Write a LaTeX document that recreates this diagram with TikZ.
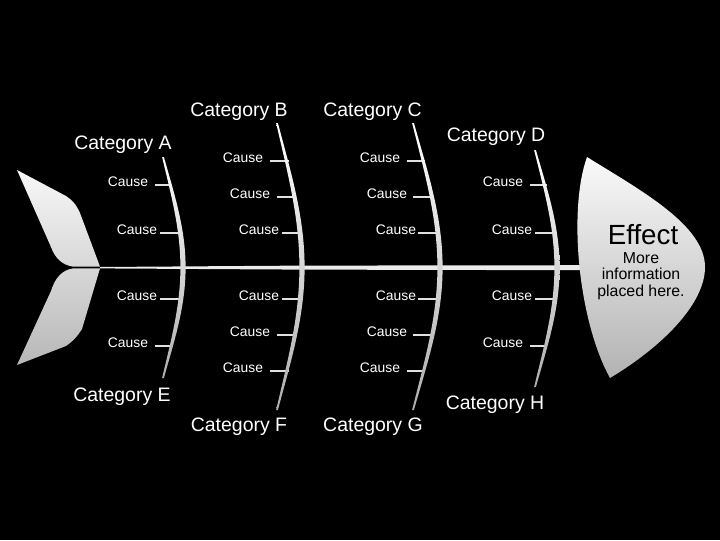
\documentclass[tikz,border=0pt]{standalone}
\usepackage{fontspec}
\setmainfont{Liberation Sans}
\newcommand\fbone[4]{% xtop, ytop, xmid, ybot
  \shade[bonesh]
   ({#1-0.9},#2) .. controls ({#1+0.5*(#3-#1)-1.8},{#2+0.35*(267.5-#2)}) and ({#3-2.6},{267.5-0.35*(267.5-#2)}) .. ({#3-2.6},267.5)
   .. controls ({#3-2.6},{267.5+0.35*(#4-267.5)}) and ({#1+0.5*(#3-#1)-1.8},{#4-0.35*(#4-267.5)}) .. ({#1-0.9},#4)
   -- ({#1+0.9},#4)
   .. controls ({#1+0.5*(#3-#1)+1.8},{#4-0.35*(#4-267.5)}) and ({#3+2.6},{267.5+0.35*(#4-267.5)}) .. ({#3+2.6},267.5)
   .. controls ({#3+2.6},{267.5-0.35*(267.5-#2)}) and ({#1+0.5*(#3-#1)+1.8},{#2+0.35*(267.5-#2)}) .. ({#1+0.9},#2)
   -- cycle;}
\newcommand\causetick[5]{% name, text x, text y, tick x1, tick x2
  \node[cause] (#1) at (#2,{#3+4.6}) {Cause};
  \coordinate (#1s) at (#4,{#3+3});
  \coordinate (#1e) at (#5,{#3+3});
  \draw[tick] (#1s) -- (#1e);}
\begin{document}
\begin{tikzpicture}[x=0.75pt,y=-0.75pt,
  cat/.style={text=white,font=\fontsize{14.6}{17}\selectfont,inner sep=0,anchor=base},
  cause/.style={text=white,font=\fontsize{10.4}{12}\selectfont,inner sep=0,anchor=base},
  tick/.style={draw=white!88!black,line width=0.8pt},
  bonesh/.style={top color=white,bottom color=white!68!black},
  finsh/.style={top color=white!97!black,bottom color=white!72!black},
  headsh/.style={top color=white!98!black,bottom color=white!70!black},
  info/.style={font=\fontsize{11.9}{12}\selectfont,inner sep=0,anchor=base}]
\fill[black] (0,0) rectangle (720,540);
\useasboundingbox (0,0) rectangle (720,540);
% tail
\shade[finsh]
 (17,170) -- (66,196) .. controls (72,200) and (76,204) .. (80,213) -- (100,266.6) -- (73,266.6)
   .. controls (62,265) and (55,258) .. (51,247) -- cycle
 (17,365) -- (66,346) .. controls (72,342) and (77,337) .. (82,329) -- (100,268.4) -- (73,268.4)
   .. controls (62,270) and (55,278) .. (51,291) -- cycle;
% spine
\fill[white!92!black] (100,267) -- (300,265.6) -- (586,265.2) -- (586,270.2) -- (300,269.6) -- (100,268.4) -- cycle;
% head
\shade[headsh] (587,157) .. controls (640,190) and (705,225) .. (705,267)
  .. controls (705,305) and (660,348) .. (610,378)
  .. controls (578,320) and (568,210) .. (587,157) -- cycle;
\node[font=\fontsize{20.8}{24}\selectfont,inner sep=0,anchor=base] (effect) at (643,244.3) {Effect};
\node[info] (info1) at (641,263.3) {More};
\node[info] (info2) at (641,279.6) {information};
\node[info] (info3) at (641,296) {placed here.};
% causes and ticks
\causetick{a1}{128}{182}{155}{170}
\causetick{a2}{137}{230}{160}{179}
\causetick{a3}{137}{296}{160}{180}
\causetick{a4}{128}{343}{155}{172}
\causetick{b1}{243}{158}{270}{289}
\causetick{b2}{250}{194}{277}{295}
\causetick{b3}{259}{230}{282}{300}
\causetick{b4}{259}{296}{282}{300}
\causetick{b5}{250}{332}{277}{295}
\causetick{b6}{243}{368}{270}{289}
\causetick{c1}{380}{158}{407}{425}
\causetick{c2}{387}{194}{413}{432}
\causetick{c3}{396}{230}{418}{437}
\causetick{c4}{396}{296}{418}{437}
\causetick{c5}{387}{332}{413}{432}
\causetick{c6}{380}{368}{407}{425}
\causetick{d1}{503}{182}{530}{547}
\causetick{d2}{512}{230}{535}{554}
\causetick{d3}{512}{296}{535}{554}
\causetick{d4}{503}{343}{530}{547}
% bones
\fbone{163}{157}{183}{378}
\fbone{277}{123}{302}{410}
\fbone{413}{123}{440}{410}
\fbone{535}{150}{557}{387}
% categories
\node[cat] (catA) at (123,149) {Category A};
\node[cat] (catB) at (239,116) {Category B};
\node[cat] (catC) at (372.5,116) {Category C};
\node[cat] (catD) at (496,141.7) {Category D};
\node[cat] (catE) at (122,401.7) {Category E};
\node[cat] (catF) at (239,431.7) {Category F};
\node[cat] (catG) at (373,431.7) {Category G};
\node[cat] (catH) at (495,409.3) {Category H};
\end{tikzpicture}
\end{document}
